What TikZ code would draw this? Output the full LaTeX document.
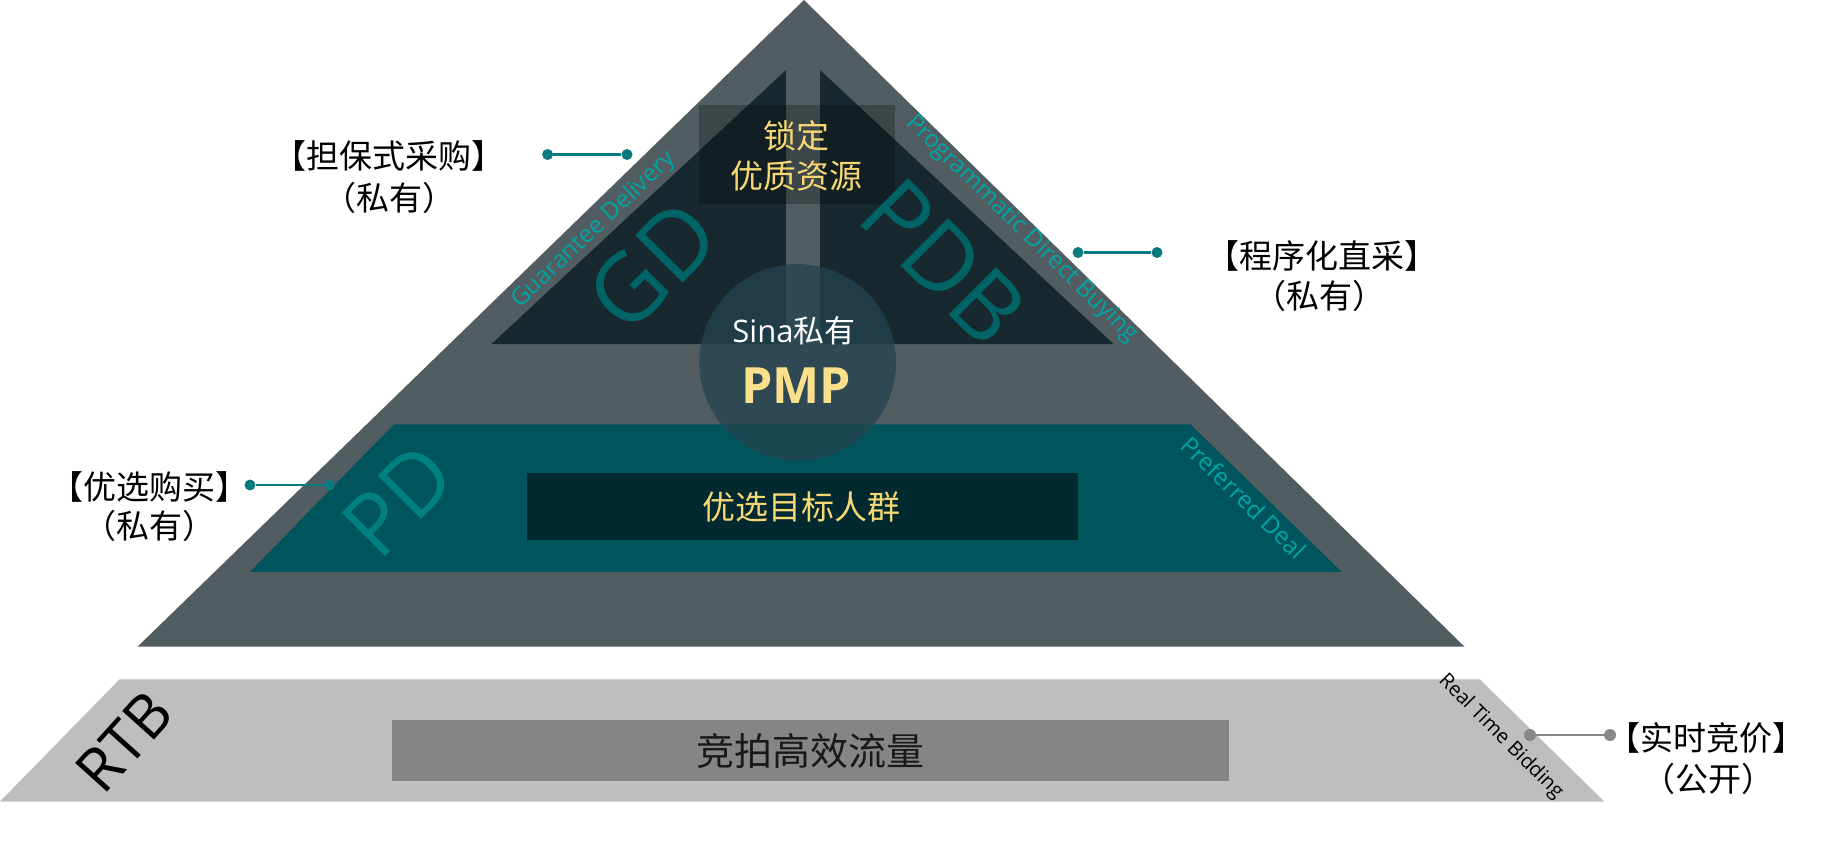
\documentclass[tikz,border=0pt]{standalone}
\usepackage{fontspec}
\setmainfont{Open Sans}
\newfontfamily\cjk{Noto Sans CJK SC}
\definecolor{outergray}{RGB}{81,93,97}
\definecolor{darktri}{RGB}{23,41,46}
\definecolor{circ}{RGB}{36,68,80}
\definecolor{pdteal}{RGB}{0,84,92}
\definecolor{pdbox}{RGB}{0,42,48}
\definecolor{goldtxt}{RGB}{247,215,116}
\definecolor{pmptxt}{RGB}{250,224,140}
\definecolor{bigteal}{RGB}{0,100,102}
\definecolor{pdletter}{RGB}{0,128,128}
\definecolor{edgetxt}{RGB}{0,165,165}
\definecolor{conn}{RGB}{10,122,128}
\definecolor{rtbgray}{RGB}{190,190,190}
\definecolor{rtbbox}{RGB}{133,133,133}
\definecolor{conngray}{RGB}{136,136,136}
\tikzset{
  txt/.style={inner sep=0pt, outer sep=0pt},
  lbl/.style={txt, text=black, font=\cjk\fontsize{33}{33}\selectfont},
  bigletters/.style={txt, font=\fontsize{94}{94}\selectfont},
  edgelabel/.style={txt, text=edgetxt, font=\fontsize{24}{24}\selectfont},
  tdot/.style={circle, fill=conn, inner sep=0pt, minimum size=11pt},
  gdot/.style={circle, fill=conngray, inner sep=0pt, minimum size=12pt},
  tline/.style={draw=conn, line width=2.6pt},
  gline/.style={draw=conngray, line width=2pt},
}
\begin{document}
\begin{tikzpicture}[x=1pt,y=-1pt]
\useasboundingbox (0,0) rectangle (1827,855);
\fill[white] (0,0) rectangle (1827,855);

% pyramid body
\fill[outergray] (804,0) -- (1464.5,646.7) -- (137.5,646.7) -- cycle;
\fill[darktri] (786,70) -- (786,344) -- (491.5,344) -- cycle;
\fill[darktri] (820,70) -- (820,344) -- (1113.5,344) -- cycle;
\fill[black, opacity=0.25] (699,105) rectangle (895,204);
\fill[pdteal] (394,424.3) -- (1190.3,424.3) -- (1341.8,572) -- (249.9,572) -- cycle;
\fill[circ, opacity=0.76] (797.7,362.4) circle (98.3);
\fill[pdbox] (527,473) rectangle (1078,539.7);

% RTB base
\fill[rtbgray] (119.6,679.3) -- (1479.8,679.3) -- (1604.2,801.5) -- (0,801.5) -- cycle;
\fill[rtbbox] (392,720) rectangle (1229.3,781);

% texts inside
\node[txt, text=goldtxt, font=\cjk\fontsize{33}{33}\selectfont] (lockA) at (796,136) {锁定};
\node[txt, text=goldtxt, font=\cjk\fontsize{33}{33}\selectfont] (lockB) at (796,176) {优质资源};
\node[txt, text=white, font=\fontsize{31}{31}\selectfont] (sina) at (794,331) {Sina{\cjk 私有}};
\node[txt, text=pmptxt, font=\bfseries\fontsize{50}{50}\selectfont] (pmp) at (796,386) {PMP};
\node[bigletters, text=bigteal, rotate=45] (gd) at (652.5,265.7) {GD};
\node[bigletters, text=bigteal, rotate=-45] (pdb) at (944,262) {PDB};
\node[txt, font=\fontsize{86}{86}\selectfont, text=pdletter, rotate=45] (pd) at (398,500) {PD};
\node[edgelabel, rotate=43.5] (gdtxt) at (594,230) {Guarantee Delivery};
\node[edgelabel, rotate=-44.2] (pdbtxt) at (1021.4,229.2) {Programmatic Direct Buying};
\node[edgelabel, rotate=-44.3] (pdtxt) at (1243.8,497.5) {Preferred Deal};
\node[txt, text=goldtxt, font=\cjk\fontsize{33}{33}\selectfont] (target) at (801.5,507) {优选目标人群};
\node[txt, text=black!90, font=\cjk\fontsize{38}{38}\selectfont] (bid) at (810,751.5) {竞拍高效流量};
\node[txt, text=black, font=\fontsize{60}{60}\selectfont, rotate=48] (rtb) at (124,742) {RTB};
\node[txt, text=black, font=\fontsize{20}{20}\selectfont, rotate=-45] (rtbtxt) at (1500.8,736.7) {Real Time Bidding};

% side labels
\node[lbl] (gdlA) at (389,156) {【担保式采购】};
\node[lbl] (gdlB) at (389,198) {（私有）};
\node[lbl] (pdblA) at (1321.7,256) {【程序化直采】};
\node[lbl] (pdblB) at (1319,296) {（私有）};
\node[lbl] (pdlA) at (149,486.7) {【优选购买】};
\node[lbl] (pdlB) at (149,526) {（私有）};
\node[lbl] (rtblA) at (1706,738) {【实时竞价】};
\node[lbl] (rtblB) at (1708,779) {（公开）};

% connectors
\node[tdot] (gdA) at (547.6,154.5) {};
\node[tdot] (gdB) at (627,154.5) {};
\draw[tline] (gdA) -- (gdB);
\node[tdot] (pdbA) at (1078,252.5) {};
\node[tdot] (pdbB) at (1157,252.5) {};
\draw[tline] (pdbA) -- (pdbB);
\node[tdot] (pdA) at (250,485) {};
\node[tdot] (pdB) at (329.3,485) {};
\draw[tline] (pdA) -- (pdB);
\node[gdot] (rtbA) at (1530,735) {};
\node[gdot] (rtbB) at (1610,735) {};
\draw[gline] (rtbA) -- (rtbB);
\end{tikzpicture}
\end{document}
